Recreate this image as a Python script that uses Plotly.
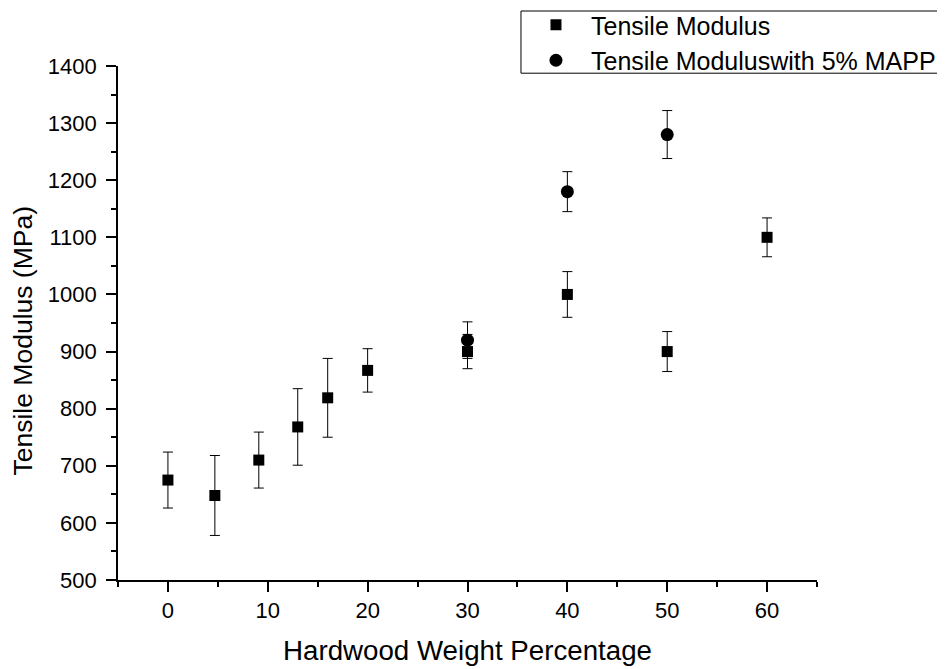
import plotly.graph_objects as go

# Tensile modulus without coupling agent
hw_pct = [0, 4.7, 9.1, 13.0, 16.0, 20, 30, 40, 50, 60]
modulus = [675, 648, 710, 768, 819, 867, 900, 1000, 900, 1100]
modulus_err = [49, 70, 49, 67, 69, 38, 30, 40, 35, 34]

# Tensile modulus with 5% MAPP
hw_pct_mapp = [30, 40, 50]
modulus_mapp = [920, 1180, 1280]
modulus_mapp_err = [32, 35, 42]

FONT = "Arial, Liberation Sans, sans-serif"

fig = go.Figure()

fig.add_trace(go.Scatter(
    x=hw_pct, y=modulus,
    mode="markers",
    name="Tensile Modulus",
    marker=dict(symbol="square", size=11, color="black"),
    error_y=dict(type="data", array=modulus_err, color="black",
                 thickness=1, width=5),
))

fig.add_trace(go.Scatter(
    x=hw_pct_mapp, y=modulus_mapp,
    mode="markers",
    name="Tensile Moduluswith 5% MAPP",
    marker=dict(symbol="circle", size=13, color="black"),
    error_y=dict(type="data", array=modulus_mapp_err, color="black",
                 thickness=1, width=5),
))

# page body has an 8px margin, so the figure is a bit smaller than the window
fig.update_layout(
    width=937, height=661,
    margin=dict(l=110, r=128, t=58, b=89, autoexpand=False),
    paper_bgcolor="white",
    plot_bgcolor="white",
    font=dict(family=FONT, color="black"),
    showlegend=True,
    legend=dict(
        x=0.5765, xanchor="left",
        y=1.1245, yanchor="top",
        borderwidth=0,
        bgcolor="rgba(0,0,0,0)",
        font=dict(size=25, family=FONT, color="black"),
        itemwidth=60,
        tracegroupgap=0,
    ),
)

# legend frame
fig.add_shape(type="rect", xref="paper", yref="paper",
              x0=0.5765, x1=1.180, y0=0.986, y1=1.107,
              line=dict(color="black", width=1), fillcolor="rgba(0,0,0,0)")

# y axis title (sits a little below the plot centre in the original)
fig.add_annotation(text="Tensile Modulus (MPa)", textangle=-90,
                   xref="paper", yref="paper", x=-0.1366, y=0.465,
                   xanchor="center", yanchor="middle",
                   showarrow=False,
                   font=dict(size=26.5, family=FONT, color="black"))

fig.update_xaxes(
    range=[-5, 65],
    dtick=10, tick0=0,
    showgrid=False, zeroline=False,
    showline=True, linecolor="black", linewidth=1.7,
    ticks="outside", ticklen=10, tickwidth=1.5, tickcolor="black",
    minor=dict(dtick=5, tick0=0, ticks="outside", ticklen=5,
               tickwidth=1.5, tickcolor="black", showgrid=False),
    tickfont=dict(size=22, family=FONT, color="black"),
    title=dict(text="Hardwood Weight Percentage",
               font=dict(size=27.7, family=FONT, color="black"), standoff=18),
)

fig.update_yaxes(
    range=[500, 1400],
    dtick=100, tick0=0,
    showgrid=False, zeroline=False,
    showline=True, linecolor="black", linewidth=1.7,
    ticks="outside", ticklen=10, tickwidth=1.5, tickcolor="black",
    minor=dict(dtick=50, tick0=0, ticks="outside", ticklen=5,
               tickwidth=1.5, tickcolor="black", showgrid=False),
    tickfont=dict(size=22, family=FONT, color="black"),
    ticklabelstandoff=5,
)

fig.write_html("out.html")
